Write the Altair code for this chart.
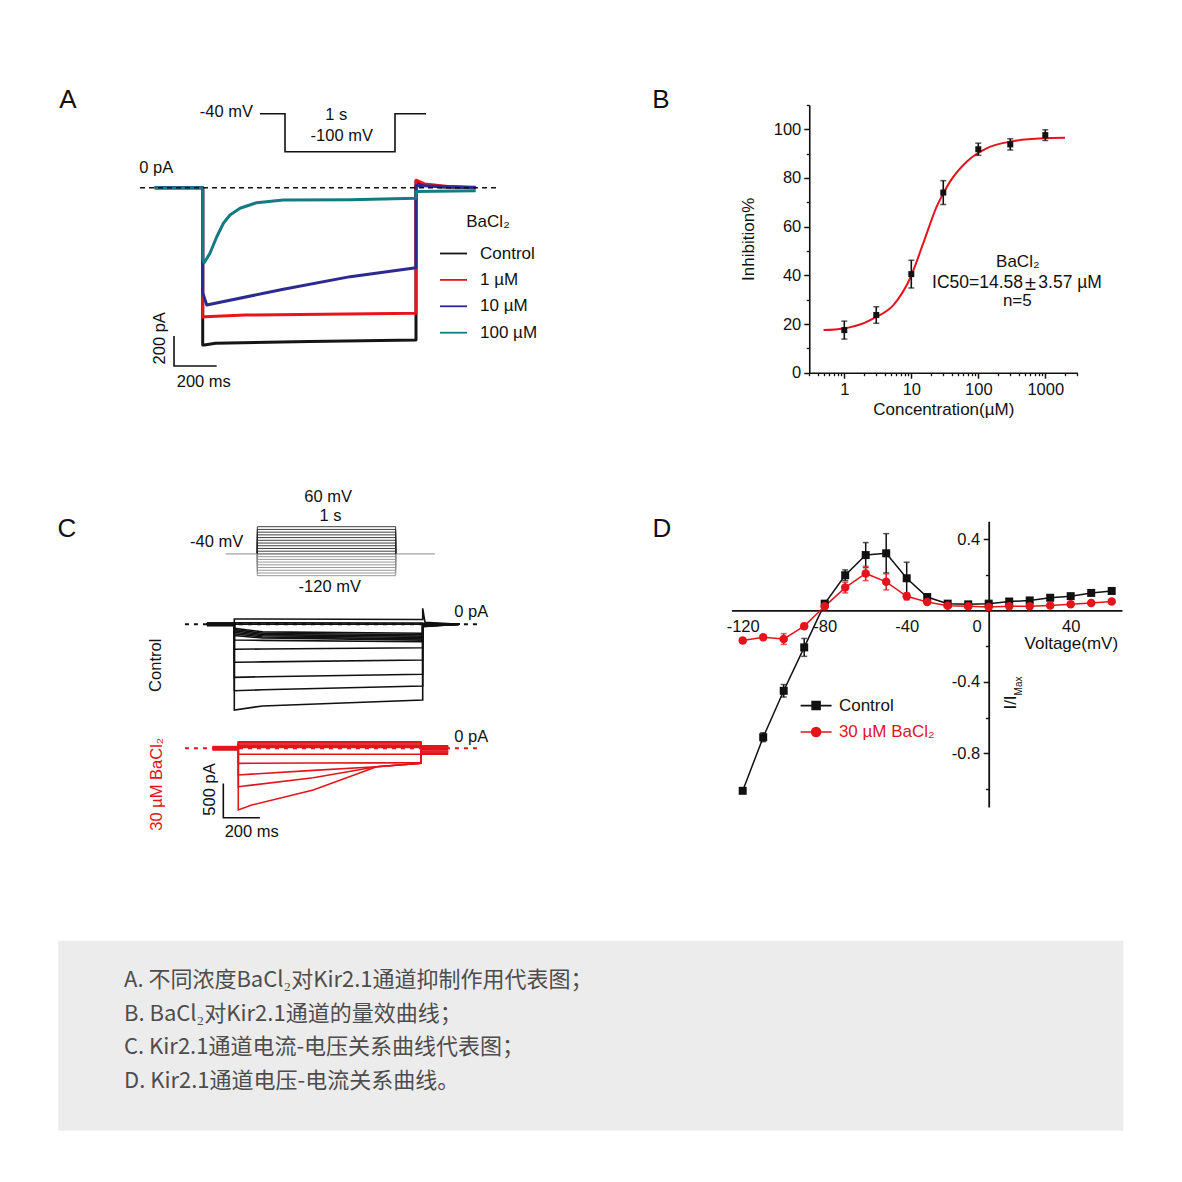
import math
import altair as alt
import pandas as pd

FONT = "Liberation Sans"
CJK = "Noto Sans CJK SC"
INK = "#111111"
RED = "#e3141b"
W = H = 1166
OFF = 8

# ------------------------------------------------------------------ data
# Panel A - voltage protocol (ms, mV)
A_PROT_T = [-227, 0, 0, 1000, 1000, 1282]
A_PROT_V = [-40, -40, -100, -100, -40, -40]
# Panel A - representative current traces (ms, pA)
A_SERIES = ["Control", "1 µM", "10 µM", "100 µM"]
A_COLORS = ["#151515", "#e8141c", "#2c2a90", "#137b81"]
A_CTRL_T = [-225, 0, 0, 8, 60, 500, 1000, 1000, 1030, 1120, 1280]
A_CTRL_I = [0, 0, -1049, -1049, -1037, -1025, -1015, 45, 20, 5, 0]
A_1UM_T = [-225, 0, 0, 10, 200, 1000, 1000, 1040, 1150, 1280]
A_1UM_I = [0, 0, -864, -860, -849, -837, 50, 25, 8, 3]
A_10UM_T = [-225, 0, 0, 19, 378, 692, 1000, 1000, 1280]
A_10UM_I = [0, 0, -700, -782, -677, -593, -533, 15, 0]
A_100UM_T = [-225, 0, 0, 7, 34, 66, 97, 128, 175, 253, 378, 692, 1000, 1000, 1280]
A_100UM_I = [0, 0, -480, -500, -437, -327, -237, -182, -137, -100, -82, -80, -71, -25, -20]
A_BASE_T = [-294, 1394]
A_BAR = [200, 200]  # ms, pA

# Panel B - concentration-response
B_CONC = [1, 3, 10, 30, 100, 300, 1000]
B_INHIB = [17.5, 23.7, 40.5, 74.0, 91.8, 93.8, 97.6]
B_SEM = [3.7, 3.4, 5.7, 4.9, 2.5, 2.3, 2.2]
B_FIT_CONC = [0.49, 0.97, 2.0, 3.05, 5.4, 9.6, 15.1, 23.9, 37.8, 67, 133, 297, 935, 1968]
B_FIT_INHIB = [17.5, 18.2, 20.5, 23.0, 27.8, 38.8, 53.2, 68.2, 78.5, 86.7, 92.2, 94.9, 96.3, 96.5]
B_X_TICKS = [1, 10, 100, 1000]
B_X_MINOR = [0.3, 0.4, 0.5, 0.6, 0.7, 0.8, 0.9, 2, 3, 4, 5, 6, 7, 8, 9,
             20, 30, 40, 50, 60, 70, 80, 90, 200, 300, 400, 500, 600, 700, 800, 900, 2000, 3000]
B_Y_TICKS = [0, 20, 40, 60, 80, 100]
B_Y_MINOR = [10, 30, 50, 70, 90, 110]

# Panel C - step protocol (mV) and current families (ms, pA)
C_STEPS = [-120, -110, -100, -90, -80, -70, -60, -50, -40, -30, -20, -10, 0, 10, 20, 30, 40, 50, 60]
C_HOLD = -40
C_PROT_T = [-228, 0, 1000, 1283]
C_CTRL_T = [-146, 0, 150, 1000, 1198]
C_CTRL_START = [77, 23, 2, -58, -75, -95, -115, -140, -165, -228, -364, -554, -773, -968, -1249]
C_CTRL_MID = [77, 23, 2, -110, -130, -150, -168, -185, -200, -235, -360, -548, -765, -955, -1190]
C_CTRL_END = [70, 20, 2, -130, -152, -172, -192, -212, -230, -254, -341, -520, -729, -899, -1104]
C_CTRL_TAIL = [30, 15, 5, 0, -5, -10, -15, -20, -25, -30, -35, -25, -20, -15, -10]
C_CTRL_SPIKE = 233
C_BA_T = [-142, 0, 73, 410, 757, 1000, 1149]
C_BA_I = [
    [96, 96, 96, 96, 96],
    [80, 80, 80, 80, 80],
    [62, 62, 62, 62, 62],
    [45, 45, 45, 45, 45],
    [28, 28, 28, 28, 28],
    [12, 12, 12, 12, 12],
    [-87, -87, -87, -87, -87],
    [-219, -218, -215, -213, -210],
    [-389, -377, -322, -268, -219],
    [-560, -537, -430, -268, -219],
    [-899, -827, -608, -268, -219],
]
C_BA_TAIL = [38, 30, 22, 15, 8, 0, -20, -40, -55, -70, -87]
C_CTRL_BASE_T = [-262, 1313]
C_BA_BASE_T = [-292, 1332]
C_BAR = [200, 500]  # ms, pA

# Panel D - I/V relation (mV, I/Imax)
D_SERIES = ["Control", "30 µM BaCl₂"]
D_V = [-120, -110, -100, -90, -80, -70, -60, -50, -40, -30, -20, -10, 0, 10, 20, 30, 40, 50, 60]
D_CTRL = [-1.01, -0.71, -0.45, -0.207, 0.038, 0.197, 0.31, 0.32, 0.18, 0.075, 0.038, 0.034, 0.038,
          0.05, 0.056, 0.071, 0.08, 0.098, 0.109]
D_CTRL_ERR = [0.01, 0.025, 0.035, 0.05, 0.015, 0.03, 0.07, 0.11, 0.09, 0.015, 0.01, 0.01, 0.01,
              0.01, 0.01, 0.01, 0.01, 0.01, 0.01]
D_BA = [-0.169, -0.15, -0.16, -0.088, 0.023, 0.128, 0.207, 0.16, 0.079, 0.047, 0.026, 0.023, 0.019,
        0.023, 0.023, 0.028, 0.034, 0.041, 0.05]
D_BA_ERR = [0.01, 0.01, 0.03, 0.015, 0.015, 0.03, 0.04, 0.045, 0.02, 0.01, 0.01, 0.01, 0.01,
            0.01, 0.01, 0.01, 0.01, 0.01, 0.01]
D_X_TICKS = [-120, -80, -40, 40]
D_Y_TICKS = [-0.8, -0.4, 0.4]
D_Y_MINOR = [-1.0, -0.6, -0.2, 0.2]

CAPTION = [
    "A. 不同浓度BaCl₂对Kir2.1通道抑制作用代表图；",
    "B. BaCl₂对Kir2.1通道的量效曲线；",
    "C. Kir2.1通道电流-电压关系曲线代表图；",
    "D. Kir2.1通道电压-电流关系曲线。",
]


# ------------------------------------------------------------------ layout helpers
def sc(lo, hi, v0, p0, v1, p1, log=False):
    f = math.log10 if log else (lambda z: z)
    k = (p1 - p0) / (f(v1) - f(v0))
    rng = [p0 + (f(lo) - f(v0)) * k - OFF, p0 + (f(hi) - f(v0)) * k - OFF]
    if log:
        return alt.Scale(type="log", domain=[lo, hi], range=rng, nice=False)
    return alt.Scale(domain=[lo, hi], range=rng, zero=False, nice=False)


def pos(v, v0, p0, v1, p1):
    return p0 + (v - v0) * (p1 - p0) / (v1 - v0) - OFF


PAGE = alt.Scale(domain=[0, 1182], range=[-OFF, 1182 - OFF], zero=False, nice=False)

SA_T = sc(-300, 1400, 0, 202.7, 1000, 416)
SA_I = sc(-1300, 300, 0, 187.7, -200, 217.7)
SA_PT = sc(-300, 1400, 0, 285, 1000, 395)
SA_PV = sc(-120, 0, -40, 113.7, -100, 151.7)

SB_X = sc(0.3, 3000, 1, 844.3, 1000, 1045.3, log=True)
SB_Y = sc(0, 110, 0, 372.7, 100, 129.3)
B_AXIS_X = 844.3 + math.log10(0.3) * (201.0 / 3) - OFF
B_AXIS_Y = 372.7 - OFF

SC_PT = sc(-300, 1400, 0, 257.3, 1000, 395.7)
SC_PV = sc(-130, 70, -120, 575.7, 60, 526.7)
SC_CT = sc(-300, 1400, 0, 234.3, 1000, 422.7)
SC_CI = sc(-1500, 400, 0, 624.3, -500, 658.6)
SC_BT = sc(-300, 1400, 0, 238.3, 1000, 421)
SC_BI = sc(-1100, 300, 0, 748.3, -500, 782.6)

SD_X = sc(-125.5, 65, -120, 742.7, 40, 1070.7)
SD_Y = sc(-1.1, 0.5, 0.4, 539, -0.8, 753.3)
D_AXIS_X = pos(0, -120, 742.7, 40, 1070.7)
D_AXIS_Y = pos(0, 0.4, 539, -0.8, 753.3)

AX = dict(labelFont=FONT, labelFontSize=16.5, labelColor=INK, domainColor=INK, tickColor=INK,
          grid=False, labelFlush=False, labelOverlap=False, titleFont=FONT, titleFontSize=17,
          titleFontWeight="normal", titleColor=INK)
NOMINUS = "replace(datum.label, '\u2212', '-')"


def xy(df, xf, yf, xs, ys, xaxis=None, yaxis=None):
    return alt.Chart(df).encode(
        x=alt.X(f"{xf}:Q", scale=xs, axis=xaxis),
        y=alt.Y(f"{yf}:Q", scale=ys, axis=yaxis),
    )


def page_text(rows, size=16.5, color=INK, angle=0, align="center", font=FONT):
    df = pd.DataFrame(rows, columns=["px", "py", "label"])
    return alt.Chart(df).mark_text(fontSize=size, color=color, angle=angle, align=align,
                                   baseline="middle", font=font).encode(
        x=alt.X("px:Q", scale=PAGE, axis=None),
        y=alt.Y("py:Q", scale=PAGE, axis=None),
        text="label:N",
    )


def path_df(ts, vs, **extra):
    return [dict(k=k, t=t, v=v, **extra) for k, (t, v) in enumerate(zip(ts, vs))]


layers = []

# caption background
cap_bg = pd.DataFrame([dict(x0=58.3, x1=1123.3, y0=940.7, y1=1130.7)])
layers.append(alt.Chart(cap_bg).mark_rect(color="#ececec").encode(
    x=alt.X("x0:Q", scale=PAGE, axis=None), x2="x1:Q",
    y=alt.Y("y0:Q", scale=PAGE, axis=None), y2="y1:Q"))

# ------------------------------------------------------------------ panel A
dfA_prot = pd.DataFrame(path_df(A_PROT_T, A_PROT_V))
layers.append(xy(dfA_prot, "t", "v", SA_PT, SA_PV).mark_line(color=INK, strokeWidth=1.6)
              .encode(order="k:Q"))

rowsA = []
for name, ts, cs in zip(A_SERIES, [A_CTRL_T, A_1UM_T, A_10UM_T, A_100UM_T],
                        [A_CTRL_I, A_1UM_I, A_10UM_I, A_100UM_I]):
    rowsA += path_df(ts, cs, series=name)
dfA = pd.DataFrame(rowsA)
legA = alt.Legend(orient="none", legendX=431, legendY=206, title="BaCl₂", titleFont=FONT,
                  titleFontSize=17, titleFontWeight="normal", titleColor=INK, titleAnchor="middle",
                  titlePadding=8, labelFont=FONT, labelFontSize=17, labelColor=INK, labelOffset=12,
                  symbolType="stroke", symbolSize=729, symbolStrokeWidth=1.8, rowPadding=3.4,
                  padding=0, direction="vertical")
layers.append(xy(dfA, "t", "v", SA_T, SA_I).mark_line(strokeWidth=3, strokeJoin="round").encode(
    color=alt.Color("series:N", scale=alt.Scale(domain=A_SERIES, range=A_COLORS), legend=legA),
    order="k:Q"))

dfA_base = pd.DataFrame(path_df(A_BASE_T, [0, 0]))
layers.append(xy(dfA_base, "t", "v", SA_T, SA_I).mark_line(color=INK, strokeWidth=1.6,
                                                             strokeDash=[5, 4]))
a_t0, a_i0 = -134.5, -1189
dfA_bar = pd.DataFrame(path_df([a_t0, a_t0, a_t0 + A_BAR[0]], [a_i0 + A_BAR[1], a_i0, a_i0]))
layers.append(xy(dfA_bar, "t", "v", SA_T, SA_I).mark_line(color=INK, strokeWidth=1.6)
              .encode(order="k:Q"))

# ------------------------------------------------------------------ panel B
dfB = pd.DataFrame(dict(conc=B_CONC, inhib=B_INHIB, sem=B_SEM))
dfB["lo"] = dfB["inhib"] - dfB["sem"]
dfB["hi"] = dfB["inhib"] + dfB["sem"]
dfB_fit = pd.DataFrame(dict(conc=B_FIT_CONC, inhib=B_FIT_INHIB))
layers.append(xy(dfB_fit, "conc", "inhib", SB_X, SB_Y).mark_line(color=RED, strokeWidth=2,
                                                                interpolate="monotone"))
layers.append(alt.Chart(dfB).mark_rule(color=INK, strokeWidth=1.6).encode(
    x=alt.X("conc:Q", scale=SB_X, axis=None), y=alt.Y("lo:Q", scale=SB_Y, axis=None), y2="hi:Q"))
dfB_caps = pd.DataFrame(dict(conc=B_CONC * 2, cap=list(dfB["lo"]) + list(dfB["hi"])))
layers.append(xy(dfB_caps, "conc", "cap", SB_X, SB_Y).mark_tick(
    orient="horizontal", size=6, thickness=1.5, color=INK))
layers.append(xy(dfB, "conc", "inhib", SB_X, SB_Y,
                 xaxis=alt.Axis(orient="bottom", offset=B_AXIS_Y - H, values=B_X_TICKS, format="d",
                                tickSize=5.5, tickWidth=1.5, domainWidth=1.6, labelPadding=3,
                                title="Concentration(µM)", titlePadding=4, **AX),
                 yaxis=alt.Axis(orient="left", offset=-B_AXIS_X, values=B_Y_TICKS, tickSize=5.5,
                                tickWidth=1.5, domainWidth=1.6, labelPadding=3, title="Inhibition%",
                                titlePadding=16, **AX))
              .mark_square(size=36, color=INK, opacity=1))
layers.append(xy(dfB, "conc", "inhib", SB_X, SB_Y,
                 xaxis=alt.Axis(orient="bottom", offset=B_AXIS_Y - H, values=B_X_MINOR, labels=False,
                                domain=False, tickSize=3, tickWidth=1.3, title=None, **AX),
                 yaxis=alt.Axis(orient="left", offset=-B_AXIS_X, values=B_Y_MINOR, labels=False,
                                domain=False, tickSize=3, tickWidth=1.3, title=None, **AX))
              .mark_square(size=36, opacity=0))

# ------------------------------------------------------------------ panel C
rows = []
for v in C_STEPS:
    rows += path_df([C_PROT_T[1], C_PROT_T[1], C_PROT_T[2], C_PROT_T[2]], [C_HOLD, v, v, C_HOLD], step=v)
dfC_prot = pd.DataFrame(rows)
layers.append(xy(dfC_prot, "t", "v", SC_PT, SC_PV).mark_line(strokeWidth=0.9).encode(
    detail="step:N", order="k:Q",
    color=alt.condition("datum.step >= -40", alt.value("#2a2a2a"), alt.value("#8c8c8c"))))
rows = path_df(C_PROT_T[:2], [C_HOLD, C_HOLD], seg=0) + path_df(C_PROT_T[2:], [C_HOLD, C_HOLD], seg=1)
layers.append(xy(pd.DataFrame(rows), "t", "v", SC_PT, SC_PV).mark_line(color="#8c8c8c", strokeWidth=1)
              .encode(detail="seg:N", order="k:Q"))

# control family
rows = []
for n, (s, m, e, tail) in enumerate(zip(C_CTRL_START, C_CTRL_MID, C_CTRL_END, C_CTRL_TAIL)):
    t0, t1, tm, t2, t3 = C_CTRL_T
    ts = [t0, t1, t1, tm, t2]
    vs = [0, 0, s, m, e]
    if n == 0:
        ts += [t2, t2 + 12]
        vs += [C_CTRL_SPIKE, tail]
    else:
        ts += [t2]
        vs += [tail]
    ts += [t3]
    vs += [0]
    rows += path_df(ts, vs, sweep=n)
dfC_ctrl = pd.DataFrame(rows)
layers.append(xy(dfC_ctrl, "t", "v", SC_CT, SC_CI).mark_line(color=INK, strokeWidth=1.6).encode(
    detail="sweep:N", order="k:Q"))
layers.append(xy(pd.DataFrame(path_df(C_CTRL_T[:2], [0, 0])), "t", "v", SC_CT, SC_CI)
              .mark_line(color=INK, strokeWidth=4.5))
layers.append(xy(pd.DataFrame(path_df(C_CTRL_BASE_T, [0, 0])), "t", "v", SC_CT, SC_CI)
              .mark_line(color=INK, strokeWidth=2, strokeDash=[4, 5]))

# BaCl2 family
rows = []
for n, (vals, tail) in enumerate(zip(C_BA_I, C_BA_TAIL)):
    tpre, ton, ta, tb, tc, toff, tend = C_BA_T
    ts = [tpre, ton, ton, ta, tb, tc, toff, toff, tend]
    vs = [0, 0] + vals + [tail, tail]
    rows += path_df(ts, vs, sweep=n)
dfC_ba = pd.DataFrame(rows)
layers.append(xy(dfC_ba, "t", "v", SC_BT, SC_BI).mark_line(color=RED, strokeWidth=1.6).encode(
    detail="sweep:N", order="k:Q"))
layers.append(xy(pd.DataFrame(path_df(C_BA_T[:2], [0, 0])), "t", "v", SC_BT, SC_BI)
              .mark_line(color=RED, strokeWidth=5))
layers.append(xy(pd.DataFrame(path_df(C_BA_BASE_T, [0, 0])), "t", "v", SC_BT, SC_BI)
              .mark_line(color=RED, strokeWidth=2, strokeDash=[4, 5]))
c_t0, c_i0 = -82, -1012
dfC_bar = pd.DataFrame(path_df([c_t0, c_t0, c_t0 + C_BAR[0]], [c_i0 + C_BAR[1], c_i0, c_i0]))
layers.append(xy(dfC_bar, "t", "v", SC_BT, SC_BI).mark_line(color=INK, strokeWidth=1.6)
              .encode(order="k:Q"))

# ------------------------------------------------------------------ panel D
dfD = pd.DataFrame(dict(
    v=D_V * 2,
    val=D_CTRL + D_BA,
    err=D_CTRL_ERR + D_BA_ERR,
    series=[D_SERIES[0]] * len(D_V) + [D_SERIES[1]] * len(D_V),
))
dfD["lo"] = dfD["val"] - dfD["err"]
dfD["hi"] = dfD["val"] + dfD["err"]
dctrl = dfD[dfD.series == D_SERIES[0]]
dba = dfD[dfD.series == D_SERIES[1]]

layers.append(xy(dctrl, "v", "val", SD_X, SD_Y,
                 xaxis=alt.Axis(orient="bottom", offset=D_AXIS_Y - H, values=D_X_TICKS, ticks=False,
                                domainWidth=1.8, labelPadding=8.5, labelExpr=NOMINUS, title=None, **AX),
                 yaxis=alt.Axis(orient="left", offset=-D_AXIS_X, values=D_Y_TICKS, tickSize=5.5,
                                tickWidth=1.5, domainWidth=1.8, labelPadding=3.5, labelExpr=NOMINUS,
                                title=None, **AX))
              .mark_line(color=INK, strokeWidth=1.5))
layers.append(xy(dctrl, "v", "val", SD_X, SD_Y,
                 xaxis=alt.Axis(orient="bottom", offset=D_AXIS_Y - H, values=[0], ticks=False,
                                domain=False, labelPadding=8.5, labelOffset=-12, title=None, **AX),
                 yaxis=alt.Axis(orient="left", offset=-D_AXIS_X, values=D_Y_MINOR, labels=False,
                                domain=False, tickSize=3.3, tickWidth=1.4, title=None, **AX))
              .mark_point(opacity=0))
layers.append(xy(dba, "v", "val", SD_X, SD_Y).mark_line(color=RED, strokeWidth=1.5))
for sub, col in [(dctrl, INK), (dba, RED)]:
    layers.append(alt.Chart(sub).mark_rule(color=col, strokeWidth=1.5).encode(
        x=alt.X("v:Q", scale=SD_X, axis=None), y=alt.Y("lo:Q", scale=SD_Y, axis=None), y2="hi:Q"))
    caps = pd.DataFrame(dict(v=list(sub.v) * 2, cap=list(sub.lo) + list(sub.hi)))
    layers.append(xy(caps, "v", "cap", SD_X, SD_Y).mark_tick(orient="horizontal", size=6,
                                                           thickness=1.5, color=col))
layers.append(xy(dctrl, "v", "val", SD_X, SD_Y).mark_square(size=64, color=INK, opacity=1))
layers.append(xy(dba, "v", "val", SD_X, SD_Y).mark_circle(size=72, color=RED, opacity=1))

SYM_SQ = "M-1.13,0H1.13M-0.29,-0.29H0.29V0.29H-0.29Z"
SYM_CI = "M-1.13,0H1.13M0.33,0A0.33,0.33,0,1,1,-0.33,0A0.33,0.33,0,1,1,0.33,0Z"
legD = alt.Legend(orient="none", legendX=793.1, legendY=682.6, title=None, labelFont=FONT,
                  labelFontSize=17,
                  labelColor=alt.ExprRef(expr=f"datum.value == '{D_SERIES[0]}' ? '{INK}' : '{RED}'"),
                  labelOffset=7.8, symbolSize=751, symbolStrokeWidth=1.6, symbolOpacity=1,
                  rowPadding=3.4, padding=0, direction="vertical")
layers.append(xy(dfD, "v", "val", SD_X, SD_Y).mark_point(filled=True, opacity=0).encode(
    fill=alt.Fill("series:N", scale=alt.Scale(domain=D_SERIES, range=[INK, RED]), legend=legD),
    stroke=alt.Stroke("series:N", scale=alt.Scale(domain=D_SERIES, range=[INK, RED]), legend=legD),
    shape=alt.Shape("series:N", scale=alt.Scale(domain=D_SERIES, range=[SYM_SQ, SYM_CI]), legend=legD),
))

# ------------------------------------------------------------------ texts
layers.append(page_text([(68, 100, "A"), (661, 100, "B"), (67, 529, "C"), (662, 529, "D")], size=26))
layers.append(page_text([(253, 111.7, "-40 mV"), (243.3, 542, "-40 mV")], align="right"))
layers.append(page_text([
    (336.3, 115, "1 s"), (341.7, 136.3, "-100 mV"), (156.2, 168.3, "0 pA"), (203.8, 381.7, "200 ms"),
    (328.2, 497, "60 mV"), (330.5, 515.5, "1 s"), (329.7, 586.7, "-120 mV"),
    (471.3, 611.7, "0 pA"), (471.3, 736.7, "0 pA"), (251.7, 831.7, "200 ms"),
]))
layers.append(page_text([(160, 338.3, "200 pA"), (155.8, 665.3, "Control"), (209.7, 789.5, "500 pA")],
                        angle=270))
layers.append(page_text([(156.5, 784.2, "30 µM BaCl₂")], angle=270, color=RED))
layers.append(page_text([(1017.8, 261.5, "BaCl₂"), (1017.3, 300.5, "n=5"),
                         (1071.3, 644, "Voltage(mV)")], size=17))
layers.append(page_text([(1023, 283, "IC50=14.58")], size=17.5, align="right"))
layers.append(page_text([(1030.5, 283.5, "±")], size=20))
layers.append(page_text([(1038.3, 283, "3.57 µM")], size=17.5, align="left"))
layers.append(page_text([(1011, 702.5, "I/I")], size=17, angle=270))
layers.append(page_text([(1018.5, 686, "Max")], size=10, angle=270))
layers.append(page_text([(124, y, t) for y, t in zip([980, 1013.5, 1047, 1080.5], CAPTION)],
                        size=22, color="#4d4d4d", align="left", font=CJK))

chart = (
    alt.layer(*layers)
    .resolve_scale(x="independent", y="independent", color="independent", fill="independent",
                   stroke="independent", shape="independent")
    .properties(width=W, height=H, autosize=alt.AutoSizeParams(type="none"), padding=0,
                background="white")
    .configure_view(stroke="transparent")
)
chart.save("out.html", embed_options={"renderer": "svg", "actions": False})
